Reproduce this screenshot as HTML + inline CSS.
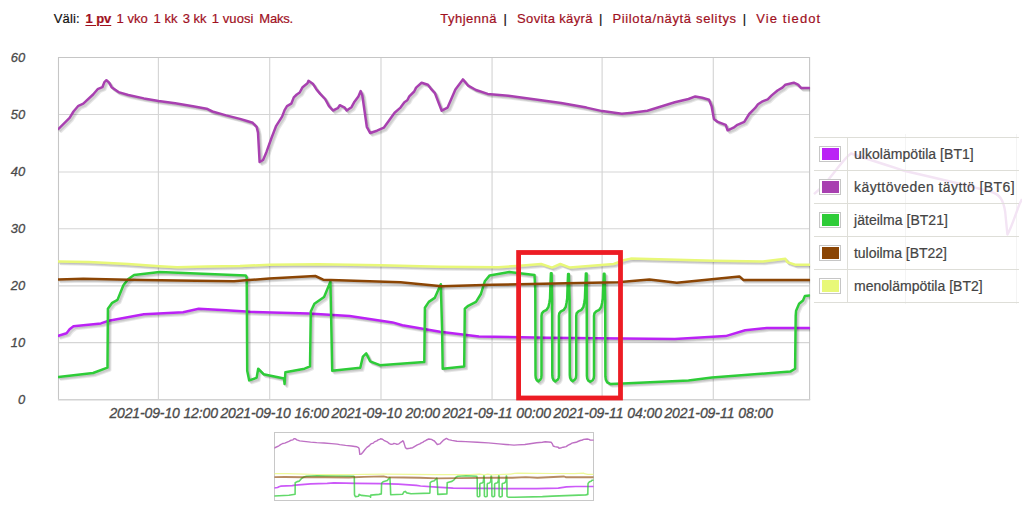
<!DOCTYPE html>
<html><head><meta charset="utf-8"><title>chart</title>
<style>
html,body{margin:0;padding:0;background:#fff;}
body{width:1022px;height:513px;position:relative;overflow:hidden;font-family:"Liberation Sans",sans-serif;}
.t{position:absolute;white-space:nowrap;line-height:1;}
.hd{font-size:13px;color:#a0101e;top:11.8px;text-underline-offset:2px;-webkit-text-stroke:0.2px #a0101e;}
.hd.k{color:#111;-webkit-text-stroke:0.2px #111;}
.yl{font-size:13px;font-style:italic;color:#4a4a4a;-webkit-text-stroke:0.3px #4a4a4a;left:0;width:25.2px;text-align:right;}
.xl{font-size:14px;font-style:italic;color:#4a4a4a;-webkit-text-stroke:0.3px #4a4a4a;top:406px;}
.lg{position:absolute;left:814px;top:137px;width:205px;height:166px;}
.lg .row{position:absolute;left:0;width:205px;height:33px;border-top:1px solid #deded8;box-sizing:border-box;}
.lg .sw{position:absolute;left:5px;top:8px;width:20px;height:14px;border:1px solid #c6c6c6;background:#fff;}
.lg .sw i{position:absolute;left:2px;top:1px;width:17px;height:12px;display:block;}
.lg .lb{position:absolute;left:40px;top:9px;font-size:14px;color:#444;-webkit-text-stroke:0.2px #444;white-space:nowrap;line-height:15px;}
</style></head><body>

<svg width="1022" height="513" viewBox="0 0 1022 513" style="position:absolute;left:0;top:0">
<rect x="58.5" y="57.5" width="751.1" height="342.3" fill="#fff" stroke="none"/>
<path d="M58.5,114.50 H809.6 M58.5,172.00 H809.6 M58.5,228.70 H809.6 M58.5,285.80 H809.6 M58.5,342.60 H809.6 M158.40,57.5 V399.8 M269.70,57.5 V399.8 M381.00,57.5 V399.8 M492.05,57.5 V399.8 M602.10,57.5 V399.8 M713.30,57.5 V399.8" stroke="#d5d5d5" stroke-width="1.15" fill="none"/>
<path d="M58.5,400 V57.5 H809.6 V400" fill="none" stroke="#c6c6c6" stroke-width="1.1"/>
<path d="M58,399.8 H810.2" fill="none" stroke="#d2d2d2" stroke-width="1.6"/>
<clipPath id="pc"><rect x="58.0" y="57.5" width="752.1" height="342.3"/></clipPath>
<g clip-path="url(#pc)" fill="none" stroke-linejoin="round" stroke-linecap="round">
<path d="M58.5,335.7 L66.6,333.2 L69.6,329.3 L73.5,326.3 L100.9,323.4 L108.7,320.8 L143.9,314.2 L183.1,312.2 L198.7,308.7 L226.1,310.3 L250.0,311.8 L308.5,313.6 L349.6,316.1 L392.6,322.4 L402.4,325.3 L440.0,331.8 L478.9,336.4 L547.4,337.8 L622.9,338.6 L674.8,339.0 L725.7,336.1 L745.2,330.2 L766.8,327.9 L809.4,327.9" stroke="#000" stroke-opacity="0.095" stroke-width="2.6" transform="translate(0.88,0.88)"/>
<path d="M58.5,335.7 L66.6,333.2 L69.6,329.3 L73.5,326.3 L100.9,323.4 L108.7,320.8 L143.9,314.2 L183.1,312.2 L198.7,308.7 L226.1,310.3 L250.0,311.8 L308.5,313.6 L349.6,316.1 L392.6,322.4 L402.4,325.3 L440.0,331.8 L478.9,336.4 L547.4,337.8 L622.9,338.6 L674.8,339.0 L725.7,336.1 L745.2,330.2 L766.8,327.9 L809.4,327.9" stroke="#000" stroke-opacity="0.095" stroke-width="2.6" transform="translate(1.76,1.76)"/>
<path d="M58.5,335.7 L66.6,333.2 L69.6,329.3 L73.5,326.3 L100.9,323.4 L108.7,320.8 L143.9,314.2 L183.1,312.2 L198.7,308.7 L226.1,310.3 L250.0,311.8 L308.5,313.6 L349.6,316.1 L392.6,322.4 L402.4,325.3 L440.0,331.8 L478.9,336.4 L547.4,337.8 L622.9,338.6 L674.8,339.0 L725.7,336.1 L745.2,330.2 L766.8,327.9 L809.4,327.9" stroke="#000" stroke-opacity="0.095" stroke-width="2.6" transform="translate(2.64,2.64)"/>
<path d="M58.5,335.7 L66.6,333.2 L69.6,329.3 L73.5,326.3 L100.9,323.4 L108.7,320.8 L143.9,314.2 L183.1,312.2 L198.7,308.7 L226.1,310.3 L250.0,311.8 L308.5,313.6 L349.6,316.1 L392.6,322.4 L402.4,325.3 L440.0,331.8 L478.9,336.4 L547.4,337.8 L622.9,338.6 L674.8,339.0 L725.7,336.1 L745.2,330.2 L766.8,327.9 L809.4,327.9" stroke="#bb22f5" stroke-width="2.5"/>
<path d="M58.5,128.9 L69.6,117.9 L73.5,111.5 L78.4,105.8 L83.3,103.7 L93.1,94.5 L97.6,89.2 L102.4,87.2 L104.4,82.1 L106.4,80.2 L109.1,82.7 L111.6,87.2 L118.5,92.1 L128.3,95.0 L143.9,98.4 L158.6,100.9 L175.2,103.3 L192.9,106.2 L206.6,108.7 L212.4,111.5 L226.1,115.4 L240.0,118.9 L247.8,121.3 L252.7,122.8 L256.6,126.8 L258.0,132.6 L259.6,162.0 L263.1,160.0 L266.4,152.2 L271.3,138.5 L276.2,125.8 L282.1,116.6 L284.6,110.1 L287.0,106.2 L291.3,103.7 L293.8,97.4 L296.8,94.5 L299.7,92.5 L302.6,87.2 L307.5,83.3 L308.5,80.8 L312.8,83.7 L316.3,89.2 L320.2,93.9 L325.1,99.0 L329.0,106.2 L333.0,110.5 L337.8,108.2 L339.8,105.2 L344.7,107.6 L346.7,110.5 L351.5,107.2 L354.5,101.7 L358.4,96.4 L360.7,91.1 L362.3,95.4 L366.8,126.8 L370.1,133.0 L377.0,130.7 L383.8,127.7 L388.7,120.9 L394.6,112.7 L400.5,107.6 L404.4,102.3 L407.3,100.3 L409.3,96.4 L414.2,91.5 L416.1,87.6 L421.6,82.7 L427.9,84.7 L430.8,88.6 L434.9,93.1 L438.8,103.3 L441.7,110.7 L447.6,107.6 L455.4,89.6 L462.9,79.4 L468.2,85.7 L476.0,90.0 L487.7,93.9 L508.3,95.8 L535.7,99.4 L561.1,102.9 L586.5,107.6 L602.2,111.1 L621.8,113.8 L630.0,112.9 L647.4,110.7 L674.8,102.3 L688.5,99.0 L695.3,96.4 L702.2,97.8 L709.0,99.7 L711.6,106.2 L713.9,118.9 L717.8,121.9 L725.7,124.8 L727.6,130.3 L733.5,127.7 L737.4,124.8 L744.3,121.9 L749.2,114.0 L755.0,108.2 L758.0,104.2 L761.9,101.7 L767.7,99.4 L771.7,95.4 L777.5,90.5 L782.4,87.6 L785.4,84.7 L793.8,82.7 L798.1,84.7 L801.0,88.0 L809.4,88.0" stroke="#000" stroke-opacity="0.095" stroke-width="2.6" transform="translate(0.88,0.88)"/>
<path d="M58.5,128.9 L69.6,117.9 L73.5,111.5 L78.4,105.8 L83.3,103.7 L93.1,94.5 L97.6,89.2 L102.4,87.2 L104.4,82.1 L106.4,80.2 L109.1,82.7 L111.6,87.2 L118.5,92.1 L128.3,95.0 L143.9,98.4 L158.6,100.9 L175.2,103.3 L192.9,106.2 L206.6,108.7 L212.4,111.5 L226.1,115.4 L240.0,118.9 L247.8,121.3 L252.7,122.8 L256.6,126.8 L258.0,132.6 L259.6,162.0 L263.1,160.0 L266.4,152.2 L271.3,138.5 L276.2,125.8 L282.1,116.6 L284.6,110.1 L287.0,106.2 L291.3,103.7 L293.8,97.4 L296.8,94.5 L299.7,92.5 L302.6,87.2 L307.5,83.3 L308.5,80.8 L312.8,83.7 L316.3,89.2 L320.2,93.9 L325.1,99.0 L329.0,106.2 L333.0,110.5 L337.8,108.2 L339.8,105.2 L344.7,107.6 L346.7,110.5 L351.5,107.2 L354.5,101.7 L358.4,96.4 L360.7,91.1 L362.3,95.4 L366.8,126.8 L370.1,133.0 L377.0,130.7 L383.8,127.7 L388.7,120.9 L394.6,112.7 L400.5,107.6 L404.4,102.3 L407.3,100.3 L409.3,96.4 L414.2,91.5 L416.1,87.6 L421.6,82.7 L427.9,84.7 L430.8,88.6 L434.9,93.1 L438.8,103.3 L441.7,110.7 L447.6,107.6 L455.4,89.6 L462.9,79.4 L468.2,85.7 L476.0,90.0 L487.7,93.9 L508.3,95.8 L535.7,99.4 L561.1,102.9 L586.5,107.6 L602.2,111.1 L621.8,113.8 L630.0,112.9 L647.4,110.7 L674.8,102.3 L688.5,99.0 L695.3,96.4 L702.2,97.8 L709.0,99.7 L711.6,106.2 L713.9,118.9 L717.8,121.9 L725.7,124.8 L727.6,130.3 L733.5,127.7 L737.4,124.8 L744.3,121.9 L749.2,114.0 L755.0,108.2 L758.0,104.2 L761.9,101.7 L767.7,99.4 L771.7,95.4 L777.5,90.5 L782.4,87.6 L785.4,84.7 L793.8,82.7 L798.1,84.7 L801.0,88.0 L809.4,88.0" stroke="#000" stroke-opacity="0.095" stroke-width="2.6" transform="translate(1.76,1.76)"/>
<path d="M58.5,128.9 L69.6,117.9 L73.5,111.5 L78.4,105.8 L83.3,103.7 L93.1,94.5 L97.6,89.2 L102.4,87.2 L104.4,82.1 L106.4,80.2 L109.1,82.7 L111.6,87.2 L118.5,92.1 L128.3,95.0 L143.9,98.4 L158.6,100.9 L175.2,103.3 L192.9,106.2 L206.6,108.7 L212.4,111.5 L226.1,115.4 L240.0,118.9 L247.8,121.3 L252.7,122.8 L256.6,126.8 L258.0,132.6 L259.6,162.0 L263.1,160.0 L266.4,152.2 L271.3,138.5 L276.2,125.8 L282.1,116.6 L284.6,110.1 L287.0,106.2 L291.3,103.7 L293.8,97.4 L296.8,94.5 L299.7,92.5 L302.6,87.2 L307.5,83.3 L308.5,80.8 L312.8,83.7 L316.3,89.2 L320.2,93.9 L325.1,99.0 L329.0,106.2 L333.0,110.5 L337.8,108.2 L339.8,105.2 L344.7,107.6 L346.7,110.5 L351.5,107.2 L354.5,101.7 L358.4,96.4 L360.7,91.1 L362.3,95.4 L366.8,126.8 L370.1,133.0 L377.0,130.7 L383.8,127.7 L388.7,120.9 L394.6,112.7 L400.5,107.6 L404.4,102.3 L407.3,100.3 L409.3,96.4 L414.2,91.5 L416.1,87.6 L421.6,82.7 L427.9,84.7 L430.8,88.6 L434.9,93.1 L438.8,103.3 L441.7,110.7 L447.6,107.6 L455.4,89.6 L462.9,79.4 L468.2,85.7 L476.0,90.0 L487.7,93.9 L508.3,95.8 L535.7,99.4 L561.1,102.9 L586.5,107.6 L602.2,111.1 L621.8,113.8 L630.0,112.9 L647.4,110.7 L674.8,102.3 L688.5,99.0 L695.3,96.4 L702.2,97.8 L709.0,99.7 L711.6,106.2 L713.9,118.9 L717.8,121.9 L725.7,124.8 L727.6,130.3 L733.5,127.7 L737.4,124.8 L744.3,121.9 L749.2,114.0 L755.0,108.2 L758.0,104.2 L761.9,101.7 L767.7,99.4 L771.7,95.4 L777.5,90.5 L782.4,87.6 L785.4,84.7 L793.8,82.7 L798.1,84.7 L801.0,88.0 L809.4,88.0" stroke="#000" stroke-opacity="0.095" stroke-width="2.6" transform="translate(2.64,2.64)"/>
<path d="M58.5,128.9 L69.6,117.9 L73.5,111.5 L78.4,105.8 L83.3,103.7 L93.1,94.5 L97.6,89.2 L102.4,87.2 L104.4,82.1 L106.4,80.2 L109.1,82.7 L111.6,87.2 L118.5,92.1 L128.3,95.0 L143.9,98.4 L158.6,100.9 L175.2,103.3 L192.9,106.2 L206.6,108.7 L212.4,111.5 L226.1,115.4 L240.0,118.9 L247.8,121.3 L252.7,122.8 L256.6,126.8 L258.0,132.6 L259.6,162.0 L263.1,160.0 L266.4,152.2 L271.3,138.5 L276.2,125.8 L282.1,116.6 L284.6,110.1 L287.0,106.2 L291.3,103.7 L293.8,97.4 L296.8,94.5 L299.7,92.5 L302.6,87.2 L307.5,83.3 L308.5,80.8 L312.8,83.7 L316.3,89.2 L320.2,93.9 L325.1,99.0 L329.0,106.2 L333.0,110.5 L337.8,108.2 L339.8,105.2 L344.7,107.6 L346.7,110.5 L351.5,107.2 L354.5,101.7 L358.4,96.4 L360.7,91.1 L362.3,95.4 L366.8,126.8 L370.1,133.0 L377.0,130.7 L383.8,127.7 L388.7,120.9 L394.6,112.7 L400.5,107.6 L404.4,102.3 L407.3,100.3 L409.3,96.4 L414.2,91.5 L416.1,87.6 L421.6,82.7 L427.9,84.7 L430.8,88.6 L434.9,93.1 L438.8,103.3 L441.7,110.7 L447.6,107.6 L455.4,89.6 L462.9,79.4 L468.2,85.7 L476.0,90.0 L487.7,93.9 L508.3,95.8 L535.7,99.4 L561.1,102.9 L586.5,107.6 L602.2,111.1 L621.8,113.8 L630.0,112.9 L647.4,110.7 L674.8,102.3 L688.5,99.0 L695.3,96.4 L702.2,97.8 L709.0,99.7 L711.6,106.2 L713.9,118.9 L717.8,121.9 L725.7,124.8 L727.6,130.3 L733.5,127.7 L737.4,124.8 L744.3,121.9 L749.2,114.0 L755.0,108.2 L758.0,104.2 L761.9,101.7 L767.7,99.4 L771.7,95.4 L777.5,90.5 L782.4,87.6 L785.4,84.7 L793.8,82.7 L798.1,84.7 L801.0,88.0 L809.4,88.0" stroke="#a840b0" stroke-width="2.5"/>
<path d="M58.5,376.9 L93.1,373.0 L107.5,367.7 L107.9,308.7 L112.2,302.8 L117.5,299.9 L123.4,285.2 L128.3,279.0 L134.1,275.0 L159.6,272.1 L245.7,275.4 L246.7,277.4 L247.2,370.7 L249.2,380.4 L256.6,377.9 L258.2,368.7 L263.5,374.2 L284.0,378.5 L284.6,384.0 L285.4,372.2 L304.6,368.7 L310.0,366.4 L310.8,311.6 L314.4,303.8 L324.1,297.0 L330.4,281.7 L331.4,330.0 L332.2,370.7 L360.3,367.7 L362.9,356.6 L366.2,353.4 L370.1,361.3 L379.9,365.2 L424.3,361.9 L424.9,307.7 L428.8,301.9 L434.7,297.9 L440.8,284.2 L442.1,330.0 L442.7,368.7 L464.2,366.4 L464.8,308.7 L468.2,305.8 L476.0,301.9 L480.9,294.0 L484.8,281.3 L489.7,275.4 L509.3,272.1 L534.5,275.0 L535.3,290.0 L535.5,375.4 L535.8,378.0 L536.8,380.2 L538.2,381.4 L540.2,379.8 L541.2,378.0 L541.5,375.4 L541.5,330.0 L541.5,316.0 L541.9,313.4 L543.6,311.4 L546.6,309.8 L548.4,307.0 L549.3,303.0 L550.0,298.5 L550.5,283.0 L550.9,273.3 L551.6,273.3 L552.1,300.0 L552.3,375.4 L552.6,378.0 L553.6,380.2 L555.3,381.4 L557.6,379.8 L558.6,378.0 L558.9,375.4 L558.9,330.0 L558.9,316.0 L559.3,313.4 L560.9,311.4 L563.9,309.8 L565.7,307.0 L566.5,303.0 L567.2,298.5 L567.7,283.0 L568.1,274.0 L568.8,274.0 L569.6,300.0 L569.8,375.2 L570.1,377.8 L571.1,380.0 L572.7,381.2 L574.9,379.6 L575.9,377.8 L576.2,375.2 L576.2,330.0 L576.2,316.0 L576.6,313.4 L578.4,311.4 L581.5,309.8 L583.4,307.0 L584.2,303.0 L584.9,298.5 L585.5,283.0 L585.9,273.4 L586.6,273.4 L586.7,300.0 L586.9,375.8 L587.2,378.4 L588.2,380.6 L590.2,381.8 L592.7,380.2 L593.7,378.4 L594.0,375.8 L594.0,330.0 L594.0,316.0 L594.4,313.4 L596.2,311.4 L599.3,309.8 L601.2,307.0 L602.1,303.0 L602.8,298.5 L603.4,283.0 L603.8,273.8 L604.5,273.8 L605.2,300.0 L605.4,376.5 L605.8,379.6 L607.2,382.3 L610.2,383.9 L622.9,383.4 L688.5,380.4 L712.0,377.5 L790.3,371.6 L795.1,368.7 L795.7,315.9 L796.1,310.7 L799.1,303.8 L803.0,300.5 L804.9,296.0 L809.4,295.6" stroke="#000" stroke-opacity="0.095" stroke-width="2.6" transform="translate(0.88,0.88)"/>
<path d="M58.5,376.9 L93.1,373.0 L107.5,367.7 L107.9,308.7 L112.2,302.8 L117.5,299.9 L123.4,285.2 L128.3,279.0 L134.1,275.0 L159.6,272.1 L245.7,275.4 L246.7,277.4 L247.2,370.7 L249.2,380.4 L256.6,377.9 L258.2,368.7 L263.5,374.2 L284.0,378.5 L284.6,384.0 L285.4,372.2 L304.6,368.7 L310.0,366.4 L310.8,311.6 L314.4,303.8 L324.1,297.0 L330.4,281.7 L331.4,330.0 L332.2,370.7 L360.3,367.7 L362.9,356.6 L366.2,353.4 L370.1,361.3 L379.9,365.2 L424.3,361.9 L424.9,307.7 L428.8,301.9 L434.7,297.9 L440.8,284.2 L442.1,330.0 L442.7,368.7 L464.2,366.4 L464.8,308.7 L468.2,305.8 L476.0,301.9 L480.9,294.0 L484.8,281.3 L489.7,275.4 L509.3,272.1 L534.5,275.0 L535.3,290.0 L535.5,375.4 L535.8,378.0 L536.8,380.2 L538.2,381.4 L540.2,379.8 L541.2,378.0 L541.5,375.4 L541.5,330.0 L541.5,316.0 L541.9,313.4 L543.6,311.4 L546.6,309.8 L548.4,307.0 L549.3,303.0 L550.0,298.5 L550.5,283.0 L550.9,273.3 L551.6,273.3 L552.1,300.0 L552.3,375.4 L552.6,378.0 L553.6,380.2 L555.3,381.4 L557.6,379.8 L558.6,378.0 L558.9,375.4 L558.9,330.0 L558.9,316.0 L559.3,313.4 L560.9,311.4 L563.9,309.8 L565.7,307.0 L566.5,303.0 L567.2,298.5 L567.7,283.0 L568.1,274.0 L568.8,274.0 L569.6,300.0 L569.8,375.2 L570.1,377.8 L571.1,380.0 L572.7,381.2 L574.9,379.6 L575.9,377.8 L576.2,375.2 L576.2,330.0 L576.2,316.0 L576.6,313.4 L578.4,311.4 L581.5,309.8 L583.4,307.0 L584.2,303.0 L584.9,298.5 L585.5,283.0 L585.9,273.4 L586.6,273.4 L586.7,300.0 L586.9,375.8 L587.2,378.4 L588.2,380.6 L590.2,381.8 L592.7,380.2 L593.7,378.4 L594.0,375.8 L594.0,330.0 L594.0,316.0 L594.4,313.4 L596.2,311.4 L599.3,309.8 L601.2,307.0 L602.1,303.0 L602.8,298.5 L603.4,283.0 L603.8,273.8 L604.5,273.8 L605.2,300.0 L605.4,376.5 L605.8,379.6 L607.2,382.3 L610.2,383.9 L622.9,383.4 L688.5,380.4 L712.0,377.5 L790.3,371.6 L795.1,368.7 L795.7,315.9 L796.1,310.7 L799.1,303.8 L803.0,300.5 L804.9,296.0 L809.4,295.6" stroke="#000" stroke-opacity="0.095" stroke-width="2.6" transform="translate(1.76,1.76)"/>
<path d="M58.5,376.9 L93.1,373.0 L107.5,367.7 L107.9,308.7 L112.2,302.8 L117.5,299.9 L123.4,285.2 L128.3,279.0 L134.1,275.0 L159.6,272.1 L245.7,275.4 L246.7,277.4 L247.2,370.7 L249.2,380.4 L256.6,377.9 L258.2,368.7 L263.5,374.2 L284.0,378.5 L284.6,384.0 L285.4,372.2 L304.6,368.7 L310.0,366.4 L310.8,311.6 L314.4,303.8 L324.1,297.0 L330.4,281.7 L331.4,330.0 L332.2,370.7 L360.3,367.7 L362.9,356.6 L366.2,353.4 L370.1,361.3 L379.9,365.2 L424.3,361.9 L424.9,307.7 L428.8,301.9 L434.7,297.9 L440.8,284.2 L442.1,330.0 L442.7,368.7 L464.2,366.4 L464.8,308.7 L468.2,305.8 L476.0,301.9 L480.9,294.0 L484.8,281.3 L489.7,275.4 L509.3,272.1 L534.5,275.0 L535.3,290.0 L535.5,375.4 L535.8,378.0 L536.8,380.2 L538.2,381.4 L540.2,379.8 L541.2,378.0 L541.5,375.4 L541.5,330.0 L541.5,316.0 L541.9,313.4 L543.6,311.4 L546.6,309.8 L548.4,307.0 L549.3,303.0 L550.0,298.5 L550.5,283.0 L550.9,273.3 L551.6,273.3 L552.1,300.0 L552.3,375.4 L552.6,378.0 L553.6,380.2 L555.3,381.4 L557.6,379.8 L558.6,378.0 L558.9,375.4 L558.9,330.0 L558.9,316.0 L559.3,313.4 L560.9,311.4 L563.9,309.8 L565.7,307.0 L566.5,303.0 L567.2,298.5 L567.7,283.0 L568.1,274.0 L568.8,274.0 L569.6,300.0 L569.8,375.2 L570.1,377.8 L571.1,380.0 L572.7,381.2 L574.9,379.6 L575.9,377.8 L576.2,375.2 L576.2,330.0 L576.2,316.0 L576.6,313.4 L578.4,311.4 L581.5,309.8 L583.4,307.0 L584.2,303.0 L584.9,298.5 L585.5,283.0 L585.9,273.4 L586.6,273.4 L586.7,300.0 L586.9,375.8 L587.2,378.4 L588.2,380.6 L590.2,381.8 L592.7,380.2 L593.7,378.4 L594.0,375.8 L594.0,330.0 L594.0,316.0 L594.4,313.4 L596.2,311.4 L599.3,309.8 L601.2,307.0 L602.1,303.0 L602.8,298.5 L603.4,283.0 L603.8,273.8 L604.5,273.8 L605.2,300.0 L605.4,376.5 L605.8,379.6 L607.2,382.3 L610.2,383.9 L622.9,383.4 L688.5,380.4 L712.0,377.5 L790.3,371.6 L795.1,368.7 L795.7,315.9 L796.1,310.7 L799.1,303.8 L803.0,300.5 L804.9,296.0 L809.4,295.6" stroke="#000" stroke-opacity="0.095" stroke-width="2.6" transform="translate(2.64,2.64)"/>
<path d="M58.5,376.9 L93.1,373.0 L107.5,367.7 L107.9,308.7 L112.2,302.8 L117.5,299.9 L123.4,285.2 L128.3,279.0 L134.1,275.0 L159.6,272.1 L245.7,275.4 L246.7,277.4 L247.2,370.7 L249.2,380.4 L256.6,377.9 L258.2,368.7 L263.5,374.2 L284.0,378.5 L284.6,384.0 L285.4,372.2 L304.6,368.7 L310.0,366.4 L310.8,311.6 L314.4,303.8 L324.1,297.0 L330.4,281.7 L331.4,330.0 L332.2,370.7 L360.3,367.7 L362.9,356.6 L366.2,353.4 L370.1,361.3 L379.9,365.2 L424.3,361.9 L424.9,307.7 L428.8,301.9 L434.7,297.9 L440.8,284.2 L442.1,330.0 L442.7,368.7 L464.2,366.4 L464.8,308.7 L468.2,305.8 L476.0,301.9 L480.9,294.0 L484.8,281.3 L489.7,275.4 L509.3,272.1 L534.5,275.0 L535.3,290.0 L535.5,375.4 L535.8,378.0 L536.8,380.2 L538.2,381.4 L540.2,379.8 L541.2,378.0 L541.5,375.4 L541.5,330.0 L541.5,316.0 L541.9,313.4 L543.6,311.4 L546.6,309.8 L548.4,307.0 L549.3,303.0 L550.0,298.5 L550.5,283.0 L550.9,273.3 L551.6,273.3 L552.1,300.0 L552.3,375.4 L552.6,378.0 L553.6,380.2 L555.3,381.4 L557.6,379.8 L558.6,378.0 L558.9,375.4 L558.9,330.0 L558.9,316.0 L559.3,313.4 L560.9,311.4 L563.9,309.8 L565.7,307.0 L566.5,303.0 L567.2,298.5 L567.7,283.0 L568.1,274.0 L568.8,274.0 L569.6,300.0 L569.8,375.2 L570.1,377.8 L571.1,380.0 L572.7,381.2 L574.9,379.6 L575.9,377.8 L576.2,375.2 L576.2,330.0 L576.2,316.0 L576.6,313.4 L578.4,311.4 L581.5,309.8 L583.4,307.0 L584.2,303.0 L584.9,298.5 L585.5,283.0 L585.9,273.4 L586.6,273.4 L586.7,300.0 L586.9,375.8 L587.2,378.4 L588.2,380.6 L590.2,381.8 L592.7,380.2 L593.7,378.4 L594.0,375.8 L594.0,330.0 L594.0,316.0 L594.4,313.4 L596.2,311.4 L599.3,309.8 L601.2,307.0 L602.1,303.0 L602.8,298.5 L603.4,283.0 L603.8,273.8 L604.5,273.8 L605.2,300.0 L605.4,376.5 L605.8,379.6 L607.2,382.3 L610.2,383.9 L622.9,383.4 L688.5,380.4 L712.0,377.5 L790.3,371.6 L795.1,368.7 L795.7,315.9 L796.1,310.7 L799.1,303.8 L803.0,300.5 L804.9,296.0 L809.4,295.6" stroke="#2ecc38" stroke-width="2.5"/>
<path d="M58.5,279.4 L83.3,278.8 L128.3,279.7 L177.2,280.5 L234.0,281.3 L245.7,280.3 L269.4,278.4 L315.3,276.0 L323.2,279.7 L400.5,282.3 L441.7,286.2 L492.6,284.8 L567.0,283.3 L617.9,282.3 L649.4,279.4 L676.8,282.7 L739.4,276.4 L743.3,279.9 L809.4,279.9" stroke="#000" stroke-opacity="0.095" stroke-width="2.6" transform="translate(0.88,0.88)"/>
<path d="M58.5,279.4 L83.3,278.8 L128.3,279.7 L177.2,280.5 L234.0,281.3 L245.7,280.3 L269.4,278.4 L315.3,276.0 L323.2,279.7 L400.5,282.3 L441.7,286.2 L492.6,284.8 L567.0,283.3 L617.9,282.3 L649.4,279.4 L676.8,282.7 L739.4,276.4 L743.3,279.9 L809.4,279.9" stroke="#000" stroke-opacity="0.095" stroke-width="2.6" transform="translate(1.76,1.76)"/>
<path d="M58.5,279.4 L83.3,278.8 L128.3,279.7 L177.2,280.5 L234.0,281.3 L245.7,280.3 L269.4,278.4 L315.3,276.0 L323.2,279.7 L400.5,282.3 L441.7,286.2 L492.6,284.8 L567.0,283.3 L617.9,282.3 L649.4,279.4 L676.8,282.7 L739.4,276.4 L743.3,279.9 L809.4,279.9" stroke="#000" stroke-opacity="0.095" stroke-width="2.6" transform="translate(2.64,2.64)"/>
<path d="M58.5,279.4 L83.3,278.8 L128.3,279.7 L177.2,280.5 L234.0,281.3 L245.7,280.3 L269.4,278.4 L315.3,276.0 L323.2,279.7 L400.5,282.3 L441.7,286.2 L492.6,284.8 L567.0,283.3 L617.9,282.3 L649.4,279.4 L676.8,282.7 L739.4,276.4 L743.3,279.9 L809.4,279.9" stroke="#8b4504" stroke-width="2.5"/>
<path d="M58.5,261.4 L89.1,262.1 L128.3,264.1 L159.6,266.2 L177.2,267.2 L206.6,266.6 L240.0,266.0 L269.4,264.7 L318.3,264.3 L380.9,265.3 L440.0,266.8 L498.5,267.2 L520.0,265.8 L541.1,264.0 L552.0,267.6 L560.3,264.0 L569.9,267.6 L613.7,264.0 L623.3,260.3 L630.8,258.6 L713.9,260.8 L762.9,261.4 L785.4,258.8 L787.3,262.1 L795.1,264.7 L809.4,264.7" stroke="#000" stroke-opacity="0.095" stroke-width="2.6" transform="translate(0.88,0.88)"/>
<path d="M58.5,261.4 L89.1,262.1 L128.3,264.1 L159.6,266.2 L177.2,267.2 L206.6,266.6 L240.0,266.0 L269.4,264.7 L318.3,264.3 L380.9,265.3 L440.0,266.8 L498.5,267.2 L520.0,265.8 L541.1,264.0 L552.0,267.6 L560.3,264.0 L569.9,267.6 L613.7,264.0 L623.3,260.3 L630.8,258.6 L713.9,260.8 L762.9,261.4 L785.4,258.8 L787.3,262.1 L795.1,264.7 L809.4,264.7" stroke="#000" stroke-opacity="0.095" stroke-width="2.6" transform="translate(1.76,1.76)"/>
<path d="M58.5,261.4 L89.1,262.1 L128.3,264.1 L159.6,266.2 L177.2,267.2 L206.6,266.6 L240.0,266.0 L269.4,264.7 L318.3,264.3 L380.9,265.3 L440.0,266.8 L498.5,267.2 L520.0,265.8 L541.1,264.0 L552.0,267.6 L560.3,264.0 L569.9,267.6 L613.7,264.0 L623.3,260.3 L630.8,258.6 L713.9,260.8 L762.9,261.4 L785.4,258.8 L787.3,262.1 L795.1,264.7 L809.4,264.7" stroke="#000" stroke-opacity="0.095" stroke-width="2.6" transform="translate(2.64,2.64)"/>
<path d="M58.5,261.4 L89.1,262.1 L128.3,264.1 L159.6,266.2 L177.2,267.2 L206.6,266.6 L240.0,266.0 L269.4,264.7 L318.3,264.3 L380.9,265.3 L440.0,266.8 L498.5,267.2 L520.0,265.8 L541.1,264.0 L552.0,267.6 L560.3,264.0 L569.9,267.6 L613.7,264.0 L623.3,260.3 L630.8,258.6 L713.9,260.8 L762.9,261.4 L785.4,258.8 L787.3,262.1 L795.1,264.7 L809.4,264.7" stroke="#e8f878" stroke-width="2.5"/>
</g>
<rect x="518.6" y="252.5" width="101.9" height="145.5" fill="none" stroke="#ed1c24" stroke-width="4.8"/>
<rect x="274.5" y="432.5" width="319.0" height="68.0" fill="#fff" stroke="#c8c8c8" stroke-width="1" shape-rendering="crispEdges"/>
<clipPath id="mc"><rect x="274.5" y="432.5" width="319.0" height="68.0"/></clipPath>
<g clip-path="url(#mc)" fill="none" stroke-linejoin="round" stroke-linecap="round" stroke-opacity="0.75">
<path d="M274.2,488.0 L277.6,487.5 L278.9,486.8 L280.6,486.2 L292.2,485.6 L295.6,485.1 L310.6,483.8 L327.2,483.4 L333.9,482.8 L345.5,483.1 L355.7,483.4 L380.6,483.7 L398.1,484.2 L416.4,485.4 L420.6,486.0 L436.6,487.2 L453.2,488.1 L482.3,488.4 L514.5,488.6 L536.6,488.6 L558.2,488.1 L566.5,486.9 L575.7,486.5 L593.9,486.5" stroke="#bb22f5" stroke-width="1.70"/>
<path d="M274.2,448.0 L278.9,445.8 L280.6,444.6 L282.7,443.5 L284.8,443.1 L288.9,441.3 L290.8,440.3 L292.9,439.9 L293.7,438.9 L294.6,438.6 L295.7,439.0 L296.8,439.9 L299.7,440.9 L303.9,441.4 L310.6,442.1 L316.8,442.6 L323.9,443.0 L331.4,443.6 L337.2,444.1 L339.7,444.6 L345.5,445.4 L351.5,446.0 L354.8,446.5 L356.9,446.8 L358.5,447.6 L359.1,448.7 L359.8,454.4 L361.3,454.0 L362.7,452.5 L364.8,449.8 L366.9,447.4 L369.4,445.6 L370.5,444.3 L371.5,443.6 L373.3,443.1 L374.4,441.9 L375.6,441.3 L376.9,440.9 L378.1,439.9 L380.2,439.1 L380.6,438.7 L382.5,439.2 L383.9,440.3 L385.6,441.2 L387.7,442.2 L389.4,443.6 L391.1,444.4 L393.1,444.0 L393.9,443.4 L396.0,443.9 L396.9,444.4 L398.9,443.8 L400.2,442.7 L401.9,441.7 L402.8,440.7 L403.5,441.5 L405.4,447.6 L406.8,448.8 L409.8,448.3 L412.7,447.7 L414.8,446.4 L417.3,444.8 L419.8,443.9 L421.4,442.8 L422.7,442.4 L423.5,441.7 L425.6,440.7 L426.4,440.0 L428.8,439.0 L431.5,439.4 L432.7,440.2 L434.4,441.0 L436.1,443.0 L437.3,444.5 L439.8,443.9 L443.2,440.4 L446.4,438.4 L448.6,439.6 L451.9,440.4 L456.9,441.2 L465.7,441.6 L477.3,442.3 L488.2,442.9 L499.0,443.9 L505.7,444.5 L514.0,445.1 L517.5,444.9 L524.9,444.5 L536.6,442.8 L542.4,442.2 L545.3,441.7 L548.2,442.0 L551.1,442.3 L552.2,443.6 L553.2,446.0 L554.9,446.6 L558.2,447.2 L559.0,448.2 L561.5,447.7 L563.2,447.2 L566.1,446.6 L568.2,445.1 L570.7,444.0 L572.0,443.2 L573.6,442.7 L576.1,442.3 L577.8,441.5 L580.3,440.5 L582.4,440.0 L583.6,439.4 L587.2,439.0 L589.0,439.4 L590.3,440.1 L593.9,440.1" stroke="#a840b0" stroke-width="1.40"/>
<path d="M274.2,496.0 L288.9,495.2 L295.1,494.2 L295.2,482.8 L297.1,481.6 L299.3,481.1 L301.8,478.2 L303.9,477.0 L306.4,476.2 L317.2,475.7 L353.9,476.3 L354.3,476.7 L354.5,494.8 L355.4,496.6 L358.5,496.2 L359.2,494.4 L361.5,495.4 L370.2,496.3 L370.5,497.3 L370.8,495.1 L379.0,494.4 L381.3,493.9 L381.6,483.3 L383.1,481.8 L387.3,480.5 L389.9,477.5 L390.4,486.9 L390.7,494.8 L402.7,494.2 L403.8,492.0 L405.2,491.4 L406.8,492.9 L411.0,493.7 L429.9,493.1 L430.2,482.6 L431.8,481.4 L434.3,480.7 L436.9,478.0 L437.5,486.9 L437.8,494.4 L446.9,493.9 L447.2,482.8 L448.6,482.2 L451.9,481.4 L454.0,479.9 L455.7,477.5 L457.8,476.3 L466.1,475.7 L476.8,476.2 L477.2,479.1 L477.3,495.7 L477.4,496.2 L477.8,496.6 L478.4,496.8 L479.3,496.5 L479.7,496.2 L479.8,495.7 L479.8,486.9 L479.8,484.2 L480.0,483.7 L480.7,483.3 L482.0,483.0 L482.8,482.4 L483.1,481.7 L483.4,480.8 L483.7,477.8 L483.8,475.9 L484.1,475.9 L484.3,481.1 L484.4,495.7 L484.5,496.2 L485.0,496.6 L485.7,496.8 L486.7,496.5 L487.1,496.2 L487.2,495.7 L487.2,486.9 L487.2,484.2 L487.4,483.7 L488.1,483.3 L489.4,483.0 L490.1,482.4 L490.5,481.7 L490.7,480.8 L491.0,477.8 L491.1,476.1 L491.4,476.1 L491.8,481.1 L491.9,495.6 L492.0,496.1 L492.4,496.6 L493.1,496.8 L494.0,496.5 L494.5,496.1 L494.6,495.6 L494.6,486.9 L494.6,484.2 L494.8,483.7 L495.5,483.3 L496.8,483.0 L497.6,482.4 L498.0,481.7 L498.3,480.8 L498.5,477.8 L498.7,475.9 L499.0,475.9 L499.1,481.1 L499.1,495.7 L499.3,496.3 L499.7,496.7 L500.5,496.9 L501.6,496.6 L502.0,496.3 L502.2,495.7 L502.2,486.9 L502.2,484.2 L502.3,483.7 L503.1,483.3 L504.4,483.0 L505.2,482.4 L505.6,481.7 L505.9,480.8 L506.2,477.8 L506.3,476.0 L506.6,476.0 L506.9,481.1 L507.0,495.9 L507.2,496.5 L507.8,497.0 L509.1,497.3 L514.5,497.2 L542.4,496.6 L552.4,496.1 L585.7,494.9 L587.8,494.4 L588.0,484.2 L588.2,483.2 L589.5,481.8 L591.1,481.2 L591.9,480.3 L593.9,480.2" stroke="#2ecc38" stroke-width="1.60"/>
<path d="M274.2,477.1 L284.8,477.0 L303.9,477.2 L324.7,477.3 L348.9,477.5 L353.9,477.3 L364.0,476.9 L383.5,476.4 L386.9,477.2 L419.8,477.7 L437.3,478.4 L459.0,478.1 L490.7,477.8 L512.3,477.7 L525.7,477.1 L537.4,477.7 L564.1,476.5 L565.7,477.2 L593.9,477.2" stroke="#8b4504" stroke-width="1.90" stroke-opacity="0.62"/>
<path d="M274.2,473.6 L287.2,473.7 L303.9,474.1 L317.2,474.5 L324.7,474.7 L337.2,474.6 L351.5,474.5 L364.0,474.3 L384.8,474.2 L411.4,474.4 L436.6,474.7 L461.5,474.7 L470.7,474.5 L479.6,474.1 L484.3,474.8 L487.8,474.1 L491.9,474.8 L510.5,474.1 L514.6,473.4 L517.8,473.1 L553.2,473.5 L574.1,473.6 L583.6,473.1 L584.5,473.7 L587.8,474.3 L593.9,474.3" stroke="#e8f878" stroke-width="1.20"/>
</g>
<path d="M905.5,134 V304 M1016.5,134 V304" stroke="#f4f4f4" stroke-width="1" fill="none"/>
<path d="M814,194.2 L822,187 C836,172 842,160 851,153.5 C858,156 880,163 905,171 C940,179 970,186 990,191.5 C1000,194 1003.5,200 1005.2,212 L1007.4,234.5 C1011,229 1015,216 1019.5,204 L1022,199" stroke="#f3e4f4" stroke-width="2.4" fill="none" stroke-linejoin="round"/>
</svg>
<span class="t hd k" id="h0" style="left:53.7px;letter-spacing:0.151px;">Väli:</span>
<span class="t hd " id="h1" style="left:85.4px;font-weight:bold;text-decoration:underline;letter-spacing:-0.039px;">1 pv</span>
<span class="t hd " id="h2" style="left:116.6px;letter-spacing:0.030px;">1 vko</span>
<span class="t hd " id="h3" style="left:153.6px;letter-spacing:-0.015px;">1 kk</span>
<span class="t hd " id="h4" style="left:182.7px;letter-spacing:-0.048px;">3 kk</span>
<span class="t hd " id="h5" style="left:211.7px;letter-spacing:0.099px;">1 vuosi</span>
<span class="t hd " id="h6" style="left:259.3px;letter-spacing:-0.218px;">Maks.</span>
<span class="t hd " id="h7" style="left:440.2px;letter-spacing:0.505px;">Tyhjennä</span>
<span class="t hd k" id="h8" style="left:503.6px;">|</span>
<span class="t hd " id="h9" style="left:517.1px;letter-spacing:0.341px;">Sovita käyrä</span>
<span class="t hd k" id="h10" style="left:598.9px;">|</span>
<span class="t hd " id="h11" style="left:612.4px;letter-spacing:0.657px;">Piilota/näytä selitys</span>
<span class="t hd k" id="h12" style="left:742.8px;">|</span>
<span class="t hd " id="h13" style="left:756.2px;letter-spacing:1.115px;">Vie tiedot</span>
<span class="t yl" style="top:50.8px">60</span>
<span class="t yl" style="top:107.8px">50</span>
<span class="t yl" style="top:165.3px">40</span>
<span class="t yl" style="top:222.0px">30</span>
<span class="t yl" style="top:279.1px">20</span>
<span class="t yl" style="top:335.9px">10</span>
<span class="t yl" style="top:393.1px">0</span>
<span class="t xl" id="x0" style="left:109.4px;letter-spacing:-0.130px;">2021-09-10 12:00</span>
<span class="t xl" id="x1" style="left:220.4px;letter-spacing:-0.130px;">2021-09-10 16:00</span>
<span class="t xl" id="x2" style="left:331.4px;letter-spacing:-0.130px;">2021-09-10 20:00</span>
<span class="t xl" id="x3" style="left:442.4px;letter-spacing:-0.060px;">2021-09-11 00:00</span>
<span class="t xl" id="x4" style="left:553.4px;letter-spacing:-0.060px;">2021-09-11 04:00</span>
<span class="t xl" id="x5" style="left:664.4px;letter-spacing:-0.060px;">2021-09-11 08:00</span>
<div class="lg">
<div class="row" style="top:0px"><div class="sw"><i style="background:#bb22f5"></i></div><span class="lb" id="l0" style="letter-spacing:0.035px;">ulkolämpötila [BT1]</span></div>
<div class="row" style="top:33px"><div class="sw"><i style="background:#a840b0"></i></div><span class="lb" id="l1" style="letter-spacing:0.422px;">käyttöveden täyttö [BT6]</span></div>
<div class="row" style="top:66px"><div class="sw"><i style="background:#2ecc38"></i></div><span class="lb" id="l2" style="letter-spacing:0.038px;">jäteilma [BT21]</span></div>
<div class="row" style="top:99px"><div class="sw"><i style="background:#8b4504"></i></div><span class="lb" id="l3" style="letter-spacing:-0.034px;">tuloilma [BT22]</span></div>
<div class="row" style="top:132px"><div class="sw"><i style="background:#e8f878"></i></div><span class="lb" id="l4" style="letter-spacing:0.016px;">menolämpötila [BT2]</span></div>
<div class="row" style="top:165px;height:1px"></div>
<div style="position:absolute;left:33px;top:0;width:1px;height:166px;background:#deded8"></div>
</div>
</body></html>
